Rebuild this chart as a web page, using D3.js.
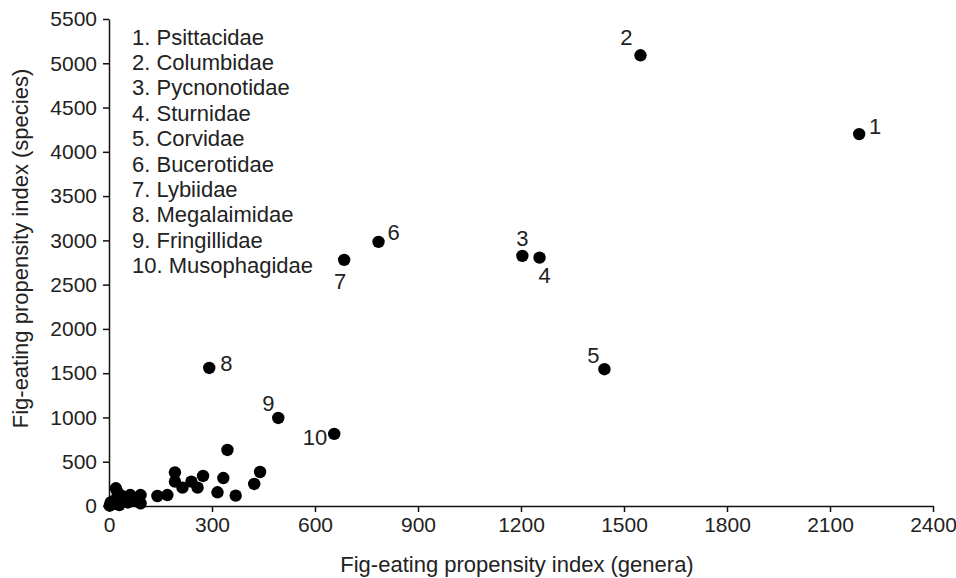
<!DOCTYPE html>
<html>
<head>
<meta charset="utf-8">
<script src="https://cdn.jsdelivr.net/npm/d3@7"></script>
<style>
  body { margin: 0; background: #fff; }
  text { font-family: "Liberation Sans", Arial, Helvetica, sans-serif; fill: #222; }
  .axis path, .axis line { stroke: #111; stroke-width: 1.5; }
</style>
</head>
<body>
<div id="chart"></div>
<script>
// numbered families (genera index, species index)
var familyNames = ["Psittacidae", "Columbidae", "Pycnonotidae", "Sturnidae", "Corvidae",
  "Bucerotidae", "Lybiidae", "Megalaimidae", "Fringillidae", "Musophagidae"];
var familyGenera = [2185, 1548, 1204, 1254, 1443, 785, 685, 292, 493, 656];
var familySpecies = [4200, 5090, 2825, 2805, 1545, 2983, 2780, 1559, 994, 814];

// unlabelled families
var otherGenera = [2, 5, 10, 15, 20, 25, 30, 35, 40, 50, 55, 62, 70, 85, 92, 92,
  141, 170, 192, 192, 214, 240, 258, 274, 316, 333, 345, 369, 423, 440];
var otherSpecies = [5, 40, 20, 60, 200, 150, 10, 120, 80, 90, 40, 124, 60, 90, 30, 124,
  113, 124, 380, 275, 207, 275, 207, 339, 155, 316, 633, 117, 249, 384];

var xTicks = [0, 300, 600, 900, 1200, 1500, 1800, 2100, 2400];
var yTicks = [0, 500, 1000, 1500, 2000, 2500, 3000, 3500, 4000, 4500, 5000, 5500];

var svgWidth = 956, svgHeight = 578;
var margin = { top: 19, right: 23, bottom: 72, left: 109 };
var width = svgWidth - margin.left - margin.right;
var height = svgHeight - margin.top - margin.bottom;

var svg = d3.select("#chart").append("svg")
  .attr("width", svgWidth)
  .attr("height", svgHeight);

var chartGroup = svg.append("g")
  .attr("transform", `translate(${margin.left}, ${margin.top})`);

var xScale = d3.scaleLinear().domain([0, 2400]).range([0, width]);
var yScale = d3.scaleLinear().domain([0, 5500]).range([height, 0]);

// axes
var xAxis = chartGroup.append("g")
  .attr("class", "axis")
  .attr("transform", `translate(0, ${height})`)
  .call(d3.axisBottom(xScale).tickValues(xTicks).tickFormat(d3.format("d"))
    .tickSize(6).tickPadding(5).tickSizeOuter(0));
var yAxis = chartGroup.append("g")
  .attr("class", "axis")
  .call(d3.axisLeft(yScale).tickValues(yTicks).tickFormat(d3.format("d"))
    .tickSize(6).tickPadding(6).tickSizeOuter(0));
chartGroup.selectAll(".axis text")
  .style("font-size", "21px")
  .style("font-family", "\"Liberation Sans\", Arial, sans-serif")
  .attr("fill", "#222");

// unlabelled points
var others = otherGenera.map((g, i) => ({ x: g, y: otherSpecies[i] }));
chartGroup.selectAll("circle.other")
  .data(others)
  .enter()
  .append("circle")
  .attr("class", "other")
  .attr("cx", d => xScale(d.x))
  .attr("cy", d => yScale(d.y))
  .attr("r", 6.2)
  .attr("fill", "#000");

// numbered points
var families = familyNames.map((n, i) => ({ n: i + 1, name: n, x: familyGenera[i], y: familySpecies[i] }));
chartGroup.selectAll("circle.fam")
  .data(families)
  .enter()
  .append("circle")
  .attr("class", "fam")
  .attr("cx", d => xScale(d.x))
  .attr("cy", d => yScale(d.y))
  .attr("r", 6.2)
  .attr("fill", "#000");

// label offsets [dx, dy, anchor]
var labelPlace = [[16, 0, "middle"], [-14, -10, "middle"], [0, -10, "middle"], [5, 25, "middle"],
  [-11, -6, "middle"], [15, -2, "middle"], [-4, 29, "middle"], [17, 3, "middle"],
  [-10, -7, "middle"], [-7, 11, "end"]];
chartGroup.selectAll("text.num")
  .data(families)
  .enter()
  .append("text")
  .attr("class", "num")
  .attr("x", (d, i) => xScale(d.x) + labelPlace[i][0])
  .attr("y", (d, i) => yScale(d.y) + labelPlace[i][1])
  .attr("text-anchor", (d, i) => labelPlace[i][2])
  .style("font-size", "22px")
  .text(d => d.n);

// legend list
var legend = chartGroup.append("g")
  .attr("transform", "translate(23, 25.5)");
legend.selectAll("text")
  .data(families)
  .enter()
  .append("text")
  .attr("x", 0)
  .attr("y", (d, i) => i * 25.4)
  .style("font-size", "22px")
  .text(d => `${d.n}. ${d.name}`);

// axis titles
chartGroup.append("text")
  .attr("x", width / 2 - 4)
  .attr("y", height + 66)
  .attr("text-anchor", "middle")
  .style("font-size", "22px")
  .text("Fig-eating propensity index (genera)");

chartGroup.append("text")
  .attr("transform", "rotate(-90)")
  .attr("x", -(height / 2) + 14)
  .attr("y", -margin.left + 28)
  .attr("text-anchor", "middle")
  .style("font-size", "22px")
  .text("Fig-eating propensity index (species)");
</script>
</body>
</html>
